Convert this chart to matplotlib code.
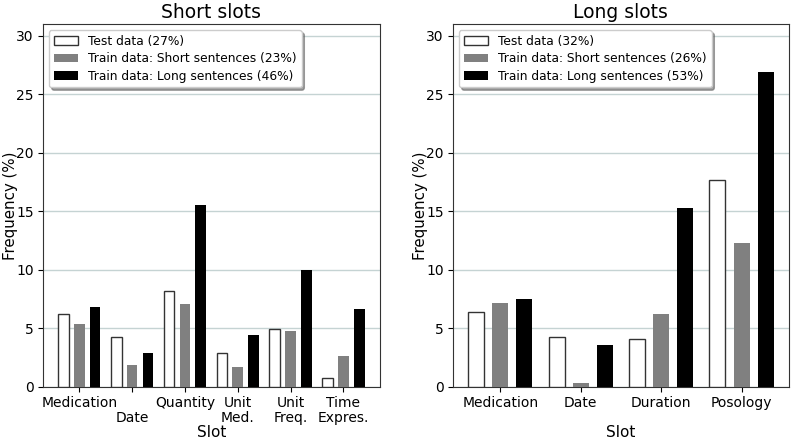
import numpy as np
import matplotlib
matplotlib.use("Agg")
import matplotlib.pyplot as plt

# Short slots
short_slots = ["Medication", "\nDate", "Quantity", "Unit\nMed.", "Unit\nFreq.", "Time\nExpres."]
short_test = [6.2, 4.25, 8.2, 2.9, 4.95, 0.8]
short_train_short = [5.35, 1.9, 7.05, 1.7, 4.8, 2.65]
short_train_long = [6.85, 2.9, 15.55, 4.4, 9.95, 6.7]
short_labels = ["Test data (27%)",
                "Train data: Short sentences (23%)",
                "Train data: Long sentences (46%)"]

# Long slots
long_slots = ["Medication", "Date", "Duration", "Posology"]
long_test = [6.4, 4.25, 4.1, 17.65]
long_train_short = [7.2, 0.3, 6.2, 12.3]
long_train_long = [7.5, 3.6, 15.25, 26.9]
long_labels = ["Test data (32%)",
               "Train data: Short sentences (26%)",
               "Train data: Long sentences (53%)"]

EDGE = "#333333"
GRID = "#c5d3d3"


def draw_panel(ax, slots, test, tr_short, tr_long, labels, title):
    x = np.arange(len(slots))
    w = 0.2
    ax.bar(x - 0.3, test, w, color="white", edgecolor=EDGE, linewidth=1.0, label=labels[0], zorder=3)
    ax.bar(x, tr_short, w, color="#808080", label=labels[1], zorder=3)
    ax.bar(x + 0.3, tr_long, w, color="black", label=labels[2], zorder=3)
    ax.set_xticks(x)
    ax.set_xticklabels(slots, fontsize=10, linespacing=1.1)
    ax.set_ylim(0, 31)
    ax.set_yticks(range(0, 31, 5))
    ax.tick_params(axis="y", labelsize=10, pad=3)
    ax.tick_params(axis="x", pad=3)
    ax.yaxis.grid(True, color=GRID, linewidth=1.0, zorder=0)
    ax.set_axisbelow(True)
    for s in ax.spines.values():
        s.set_color(EDGE)
    ax.set_title(title, fontsize=13.5, pad=4)
    ax.set_xlabel("Slot", fontsize=11)
    ax.xaxis.set_label_coords(0.5, -0.106)
    ax.set_ylabel("Frequency (%)", fontsize=10.8, labelpad=-1)
    ax.legend(loc="upper left", fontsize=8.8, shadow=True, handlelength=2.0,
              borderaxespad=0.5, labelspacing=0.35, edgecolor="#cccccc")


fig = plt.figure(figsize=(7.93, 4.4), dpi=100)
ax1 = fig.add_axes([0.054, 0.1205, 0.425, 0.825])
ax2 = fig.add_axes([0.571, 0.1205, 0.424, 0.825])
draw_panel(ax1, short_slots, short_test, short_train_short, short_train_long,
           short_labels, "Short slots")
draw_panel(ax2, long_slots, long_test, long_train_short, long_train_long,
           long_labels, "Long slots")
fig.savefig("out.png", dpi=100)
